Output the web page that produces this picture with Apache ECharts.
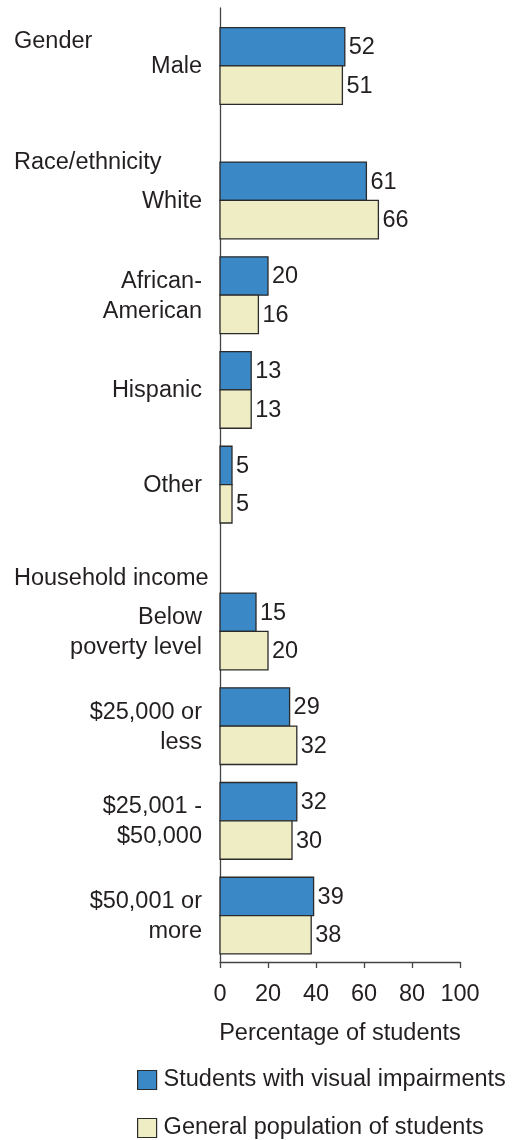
<!DOCTYPE html>
<html>
<head>
<meta charset="utf-8">
<script src="https://cdn.jsdelivr.net/npm/echarts@6/dist/echarts.min.js"></script>
<style>
  html, body { margin: 0; padding: 0; background: #ffffff; }
  #chart { width: 517px; height: 1140px; }
</style>
</head>
<body>
<div id="chart"></div>
<script>
// Share of students in each demographic group (percent)
const groupNames = ['Gender', 'Race/ethnicity', 'Household income'];
const categories = [
  'Male',
  'White', 'African-\nAmerican', 'Hispanic', 'Other',
  'Below\npoverty level', '$25,000 or\nless', '$25,001 -\n$50,000', '$50,001 or\nmore'
];
const categoryGroup = [0, 1, 1, 1, 1, 2, 2, 2, 2];
const visualImpairments = [52, 61, 20, 13, 5, 15, 29, 32, 39];
const generalPopulation = [51, 66, 16, 13, 5, 20, 32, 30, 38];
const xTicks = [0, 20, 40, 60, 80, 100];
const seriesNames = ['Students with visual impairments', 'General population of students'];

// ---- layout (row units on the hidden vertical axis) ----
const GROUP_GAP = [0, 0.42, 0.55];      // extra space before each group
const HEADER_LIFT = [0.27, 0.41, 0.57]; // header sits above its first row
const BAR_FRACTION = 0.405;             // one bar's thickness, share of a row
const FONT_SIZE = 23.5;
const FAMILY = '"Liberation Sans", Arial, Helvetica, sans-serif';
const FONT = FONT_SIZE + 'px ' + FAMILY;
const TEXT = '#231f20';
const EDGE = '#2b2b2b';
const BLUE = '#3a88c5';
const BEIGE = '#efedc4';

const rowPos = [];
const headerPos = [];
(function () {
  let pos = 0;
  let lastGroup = -1;
  categories.forEach(function (c, i) {
    const g = categoryGroup[i];
    if (g !== lastGroup) {
      pos += GROUP_GAP[g];
      headerPos[g] = pos - HEADER_LIFT[g];
      lastGroup = g;
    }
    rowPos.push(pos);
    pos += 1;
  });
})();

const Y_MIN = -0.612;
const Y_MAX = 9.46;

function barRenderer(side) {
  return function (params, api) {
    const v = api.value(0);
    const p = api.value(1);
    const base = api.coord([0, p]);
    const tip = api.coord([v, p]);
    const h = api.size([0, 1])[1] * BAR_FRACTION;
    const y = side === 0 ? base[1] - h : base[1];
    return {
      type: 'group',
      children: [
        {
          type: 'rect',
          shape: { x: base[0], y: y, width: tip[0] - base[0], height: h },
          style: { fill: side === 0 ? BLUE : BEIGE, stroke: EDGE, lineWidth: 1.3 }
        },
        {
          type: 'text',
          style: {
            text: String(v), x: tip[0] + 4, y: y + h / 2 + 1,
            align: 'left', verticalAlign: 'middle', font: FONT, fill: TEXT
          }
        }
      ]
    };
  };
}

function legendBlock(i, top, color) {
  return {
    orient: 'vertical', left: 132, top: top,
    itemWidth: 19, itemHeight: 19, icon: 'rect',
    textStyle: { fontSize: FONT_SIZE, color: TEXT, fontFamily: FAMILY, padding: [0, 0, 0, 2] },
    data: [{ name: seriesNames[i], itemStyle: { color: color, borderColor: EDGE, borderWidth: 1.2 } }]
  };
}

const chart = echarts.init(document.getElementById('chart'), null, { renderer: 'canvas' });

chart.setOption({
  backgroundColor: '#ffffff',
  animation: false,
  grid: { left: 220, right: 57, top: 8, bottom: 178, containLabel: false },
  xAxis: {
    type: 'value', min: xTicks[0], max: xTicks[xTicks.length - 1], interval: xTicks[1] - xTicks[0],
    name: 'Percentage of students', nameLocation: 'middle', nameGap: 60,
    nameTextStyle: { fontSize: FONT_SIZE, color: TEXT, fontFamily: FAMILY },
    axisLine: { show: true, onZero: false, lineStyle: { color: '#444', width: 1.3 } },
    axisTick: { show: true, length: 6, inside: false, lineStyle: { color: '#444', width: 1.3 } },
    axisLabel: { fontSize: FONT_SIZE, color: TEXT, margin: 21, fontFamily: FAMILY },
    splitLine: { show: false }
  },
  yAxis: {
    type: 'value', inverse: true, min: Y_MIN, max: Y_MAX,
    axisLine: { show: true, onZero: false, lineStyle: { color: '#444', width: 1.3 } },
    axisTick: { show: false }, axisLabel: { show: false }, splitLine: { show: false }
  },
  legend: [
    legendBlock(0, 1063, BLUE),
    legendBlock(1, 1111, BEIGE)
  ],
  series: [
    {
      name: seriesNames[0], type: 'custom', renderItem: barRenderer(0),
      itemStyle: { color: BLUE, borderColor: EDGE, borderWidth: 1.2 },
      encode: { x: 0, y: 1 },
      data: visualImpairments.map(function (v, i) { return [v, rowPos[i]]; })
    },
    {
      name: seriesNames[1], type: 'custom', renderItem: barRenderer(1),
      itemStyle: { color: BEIGE, borderColor: EDGE, borderWidth: 1.2 },
      encode: { x: 0, y: 1 },
      data: generalPopulation.map(function (v, i) { return [v, rowPos[i]]; })
    },
    {
      // category names, right-aligned against the vertical axis
      name: 'categories', type: 'custom', silent: true,
      encode: { x: 0, y: 1 },
      renderItem: function (params, api) {
        const pt = api.coord([0, api.value(1)]);
        return {
          type: 'text',
          style: {
            text: categories[params.dataIndex], x: pt[0] - 18, y: pt[1] + 1,
            align: 'right', verticalAlign: 'middle', font: FONT, fill: TEXT, lineHeight: 30
          }
        };
      },
      data: rowPos.map(function (p) { return [0, p]; })
    },
    {
      // group headings at the left edge
      name: 'groups', type: 'custom', silent: true,
      encode: { x: 0, y: 1 },
      renderItem: function (params, api) {
        const pt = api.coord([0, api.value(1)]);
        return {
          type: 'text',
          style: {
            text: groupNames[params.dataIndex], x: 14, y: pt[1] + 1,
            align: 'left', verticalAlign: 'middle', font: FONT, fill: TEXT
          }
        };
      },
      data: headerPos.map(function (p) { return [0, p]; })
    }
  ]
});
</script>
</body>
</html>
